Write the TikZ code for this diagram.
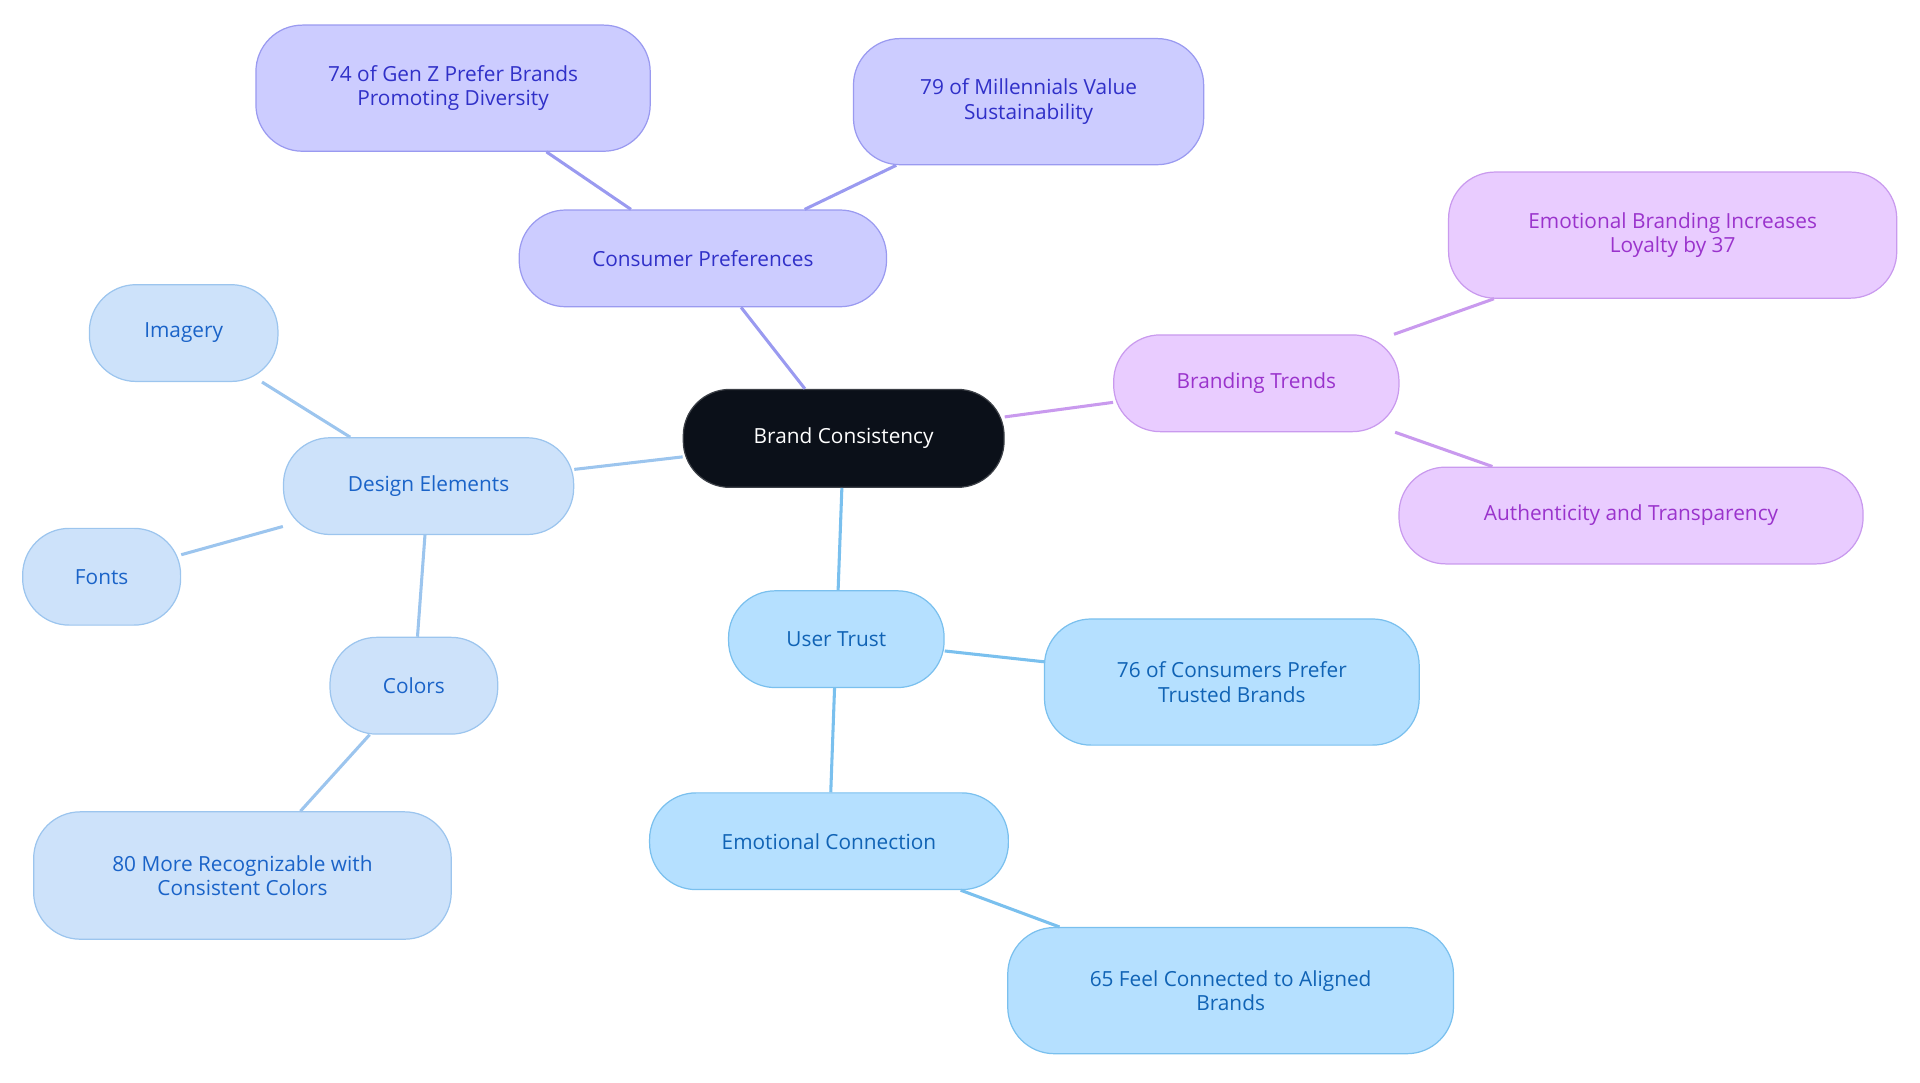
\documentclass[tikz,border=0pt]{standalone}
\usepackage{fontspec}
\setmainfont{Open Sans}
\definecolor{dk}{HTML}{0B1019}
\definecolor{pF}{HTML}{CCCCFF}\definecolor{pD}{HTML}{9A9AF0}\definecolor{pT}{HTML}{3030C8}
\definecolor{mF}{HTML}{E9CCFF}\definecolor{mD}{HTML}{C99AEE}\definecolor{mT}{HTML}{9A33CC}
\definecolor{bF}{HTML}{CDE2FA}\definecolor{bD}{HTML}{9CC5EE}\definecolor{bT}{HTML}{1A63C8}
\definecolor{cF}{HTML}{B5E0FF}\definecolor{cD}{HTML}{7AC0EE}\definecolor{cT}{HTML}{1063B5}
\tikzset{
 bx/.style={rounded corners=38pt,draw,line width=1pt,align=center,font=\fontsize{17}{20}\selectfont,inner sep=0pt},
 P/.style={bx,fill=pF,draw=pD,text=pT},
 M/.style={bx,fill=mF,draw=mD,text=mT},
 B/.style={bx,fill=bF,draw=bD,text=bT},
 C/.style={bx,fill=cF,draw=cD,text=cT},
 e/.style={line width=2.5pt}
}
\begin{document}
\begin{tikzpicture}[x=1pt,y=-1pt]
\useasboundingbox (0,0) rectangle (1568,884);
\node[bx,fill=dk,draw=dk!80!white,text=white,minimum width=262pt,minimum height=80pt] (root) at (689,358) {Brand Consistency};
\node[P,minimum width=300pt,minimum height=79pt] (cp) at (574,211) {Consumer Preferences};
\node[P,minimum width=322pt,minimum height=103pt] (gz) at (370,72) {74 of Gen Z Prefer Brands\\Promoting Diversity};
\node[P,minimum width=286pt,minimum height=103pt] (mil) at (840,83) {79 of Millennials Value\\Sustainability};
\node[M,minimum width=233pt,minimum height=79pt] (bt) at (1026,313) {Branding Trends};
\node[M,minimum width=366pt,minimum height=103pt] (eb) at (1366,192) {Emotional Branding Increases\\Loyalty by 37};
\node[M,minimum width=379pt,minimum height=79pt] (au) at (1332,421) {Authenticity and Transparency};
\node[B,minimum width=237pt,minimum height=79pt] (de) at (350,397) {Design Elements};
\node[B,minimum width=154pt,minimum height=79pt] (im) at (150,272) {Imagery};
\node[B,minimum width=129pt,minimum height=79pt] (fo) at (83,471) {Fonts};
\node[B,minimum width=137pt,minimum height=79pt] (co) at (338,560) {Colors};
\node[B,minimum width=341pt,minimum height=104pt] (rc) at (198,715) {80 More Recognizable with\\Consistent Colors};
\node[C,minimum width=176pt,minimum height=79pt] (ut) at (683,522) {User Trust};
\node[C,minimum width=306pt,minimum height=103pt] (tb) at (1006,557) {76 of Consumers Prefer\\Trusted Brands};
\node[C,minimum width=293pt,minimum height=79pt] (ec) at (677,687) {Emotional Connection};
\node[C,minimum width=364pt,minimum height=103pt] (fc) at (1005,809) {65 Feel Connected to Aligned\\Brands};
\begin{scope}[on background layer/.try]
\end{scope}
\begin{pgfinterruptboundingbox}\end{pgfinterruptboundingbox}
\draw[e,pD] (root) -- (cp); \draw[e,pD] (cp) -- (gz); \draw[e,pD] (cp) -- (mil);
\draw[e,mD] (root) -- (bt); \draw[e,mD] (bt) -- (eb); \draw[e,mD] (bt) -- (au);
\draw[e,bD] (root) -- (de); \draw[e,bD] (de) -- (im); \draw[e,bD] (de) -- (fo); \draw[e,bD] (de) -- (co); \draw[e,bD] (co) -- (rc);
\draw[e,cD] (root) -- (ut); \draw[e,cD] (ut) -- (tb); \draw[e,cD] (ut) -- (ec); \draw[e,cD] (ec) -- (fc);
\end{tikzpicture}
\end{document}
